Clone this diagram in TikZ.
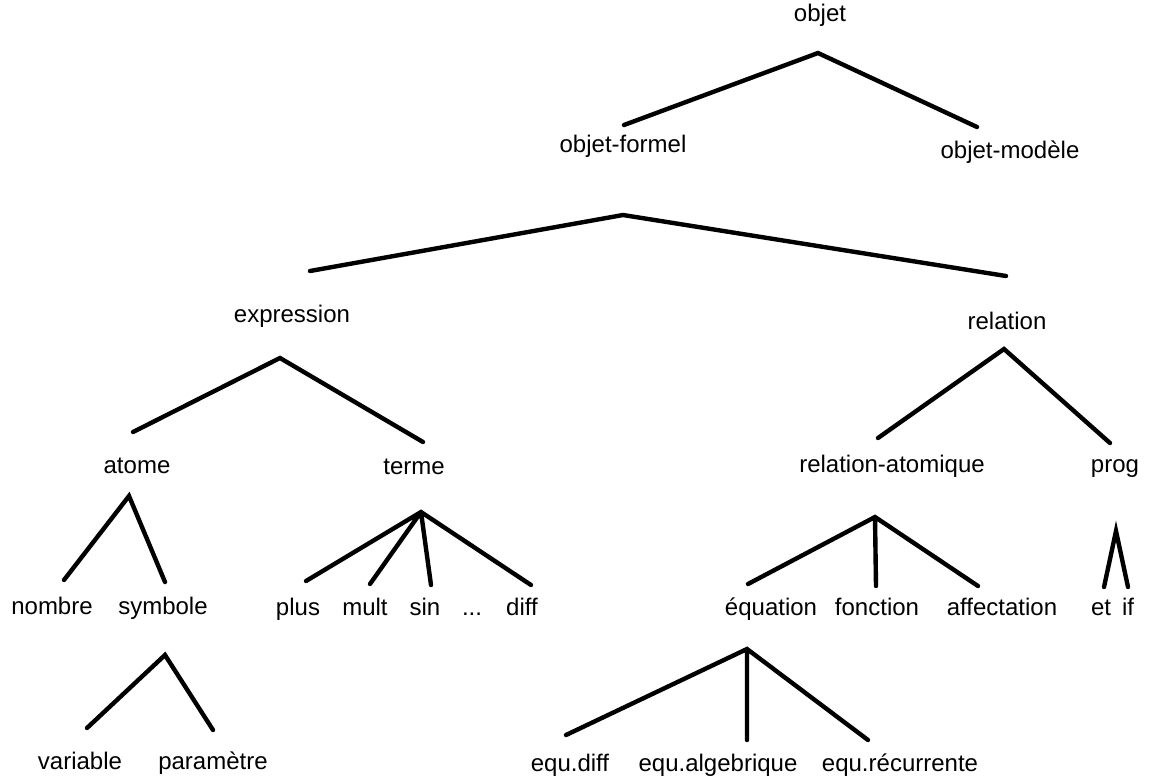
\documentclass[tikz,border=0pt]{standalone}
\usepackage{fontspec}
\setmainfont{Liberation Sans}
\usepackage{tikz}
\tikzset{
  lbl/.style={inner sep=1pt,text height=8.5pt,text depth=2.5pt,font=\fontsize{12}{14}\selectfont},
  branch/.style={line width=2.2pt,line cap=round,line join=miter}
}

\begin{document}
\begin{tikzpicture}[x=0.5pt,y=-0.5pt]
\useasboundingbox (0,0) rectangle (1161,783);
% labels, level by level
\node[lbl] (objet) at (820,15) {objet};
\node[lbl] (objform) at (623,146) {objet-formel};
\node[lbl] (objmod) at (1010,152) {objet-modèle};
\node[lbl] (expr) at (292,316) {expression};
\node[lbl] (rel) at (1007,323) {relation};
\node[lbl] (atome) at (137,467) {atome};
\node[lbl] (terme) at (414,468) {terme};
\node[lbl] (relat) at (892,466) {relation-atomique};
\node[lbl] (prog) at (1115,466) {prog};
\node[lbl] (nombre) at (52,608) {nombre};
\node[lbl] (symbole) at (163,608) {symbole};
\node[lbl] (plus) at (298,609) {plus};
\node[lbl] (mult) at (365,609) {mult};
\node[lbl] (sin) at (425,609) {sin};
\node[lbl] (dots) at (472,609) {...};
\node[lbl] (diff) at (522,609) {diff};
\node[lbl] (equation) at (771,609) {équation};
\node[lbl] (fonction) at (877,609) {fonction};
\node[lbl] (affect) at (1002,609) {affectation};
\node[lbl] (et) at (1101,609) {et};
\node[lbl] (if) at (1128,609) {if};
\node[lbl] (variable) at (80,763) {variable};
\node[lbl] (param) at (213,763) {paramètre};
\node[lbl] (eqdiff) at (570,765) {equ.diff};
\node[lbl] (eqalg) at (718,765) {equ.algebrique};
\node[lbl] (eqrec) at (900,765) {equ.récurrente};
% forks under the parents
\coordinate (objet-f) at (818,53);
\coordinate (objform-f) at (623,215);
\coordinate (expr-f) at (280,358);
\coordinate (rel-f) at (1004,349);
\coordinate (atome-f) at (129,496);
\coordinate (terme-f) at (421,512);
\coordinate (symbole-f) at (165,655);
\coordinate (relat-f) at (875,517);
\coordinate (prog-f) at (1116,531);
\coordinate (equation-f) at (747,649);
% line ends above the children
\coordinate (objform-t) at (624,125);
\coordinate (objmod-t) at (977,127);
\coordinate (expr-t) at (310,271);
\coordinate (rel-t) at (1006,276);
\coordinate (atome-t) at (133,432);
\coordinate (terme-t) at (423,442);
\coordinate (relat-t) at (878,438);
\coordinate (prog-t) at (1110,443);
\coordinate (nombre-t) at (64,580);
\coordinate (symbole-t) at (165,582);
\coordinate (plus-t) at (306,581);
\coordinate (mult-t) at (370,584);
\coordinate (sin-t) at (431,585);
\coordinate (diff-t) at (531,585);
\coordinate (variable-t) at (87,728);
\coordinate (param-t) at (213,730);
\coordinate (equation-t) at (748,584);
\coordinate (fonction-t) at (876,586);
\coordinate (affect-t) at (978,586);
\coordinate (et-t) at (1104,587);
\coordinate (if-t) at (1128,587);
\coordinate (eqdiff-t) at (566,735);
\coordinate (eqalg-t) at (747,740);
\coordinate (eqrec-t) at (868,740);
% branches
\draw[branch] (objform-t) -- (objet-f) -- (objmod-t);
\draw[branch] (expr-t) -- (objform-f) -- (rel-t);
\draw[branch] (atome-t) -- (expr-f) -- (terme-t);
\draw[branch] (relat-t) -- (rel-f) -- (prog-t);
\draw[branch] (nombre-t) -- (atome-f) -- (symbole-t);
\draw[branch] (plus-t) -- (terme-f) -- (diff-t) (terme-f) -- (mult-t) (terme-f) -- (sin-t);
\draw[branch] (variable-t) -- (symbole-f) -- (param-t);
\draw[branch] (equation-t) -- (relat-f) -- (affect-t) (relat-f) -- (fonction-t);
\draw[branch] (et-t) -- (prog-f) -- (if-t);
\draw[branch] (eqdiff-t) -- (equation-f) -- (eqrec-t) (equation-f) -- (eqalg-t);
\end{tikzpicture}
\end{document}
